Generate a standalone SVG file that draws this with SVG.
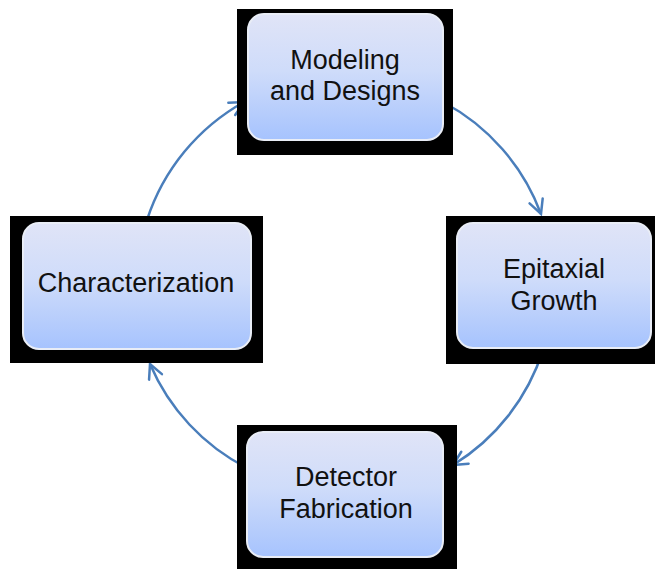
<svg xmlns="http://www.w3.org/2000/svg" width="655" height="569" viewBox="0 0 655 569">
<defs>
<linearGradient id="boxg" x1="0" y1="0" x2="0" y2="1">
<stop offset="0" stop-color="#e0e4f7"/>
<stop offset="0.45" stop-color="#cfdcfa"/>
<stop offset="0.8" stop-color="#b5ccfc"/>
<stop offset="1" stop-color="#a6c3fe"/>
</linearGradient>
<marker id="ah" markerUnits="userSpaceOnUse" markerWidth="40" markerHeight="40" refX="0" refY="0" viewBox="-20 -20 40 40" orient="auto" overflow="visible">
<path d="M-14,-7 L0,0 L-14,7" fill="none" stroke="#4a7ebb" stroke-width="2.5" stroke-linecap="round" stroke-linejoin="miter"/>
</marker>
</defs>
<style>
.bg{fill:#000}
.box{fill:url(#boxg);stroke:#e9edf6;stroke-width:2}
.lbl{font-family:"Liberation Sans",Arial,sans-serif;font-size:27px;fill:#111;text-anchor:middle}
.arc{fill:none;stroke:#4a7ebb;stroke-width:2.5;marker-end:url(#ah)}
</style>
<rect width="655" height="569" fill="#fff"/>
<g id="connectors">
<path class="arc" d="M147,220 A209,209 0 0,1 244,102"/>
<path class="arc" d="M443,102 A209,209 0 0,1 541,214"/>
<path class="arc" d="M543,350 A209,209 0 0,1 453,465"/>
<path class="arc" d="M247,468 A209,209 0 0,1 150,364"/>
</g>
<g id="modeling">
<rect class="bg" x="237" y="9" width="216" height="146"/>
<rect class="box" x="248" y="14" width="195" height="126" rx="16"/>
<text class="lbl" x="345" y="69">Modeling</text>
<text class="lbl" x="345" y="100">and Designs</text>
</g>
<g id="epitaxial">
<rect class="bg" x="446" y="216" width="209" height="148"/>
<rect class="box" x="457" y="223" width="194" height="125" rx="16"/>
<text class="lbl" x="554" y="278">Epitaxial</text>
<text class="lbl" x="554" y="310">Growth</text>
</g>
<g id="detector">
<rect class="bg" x="237" y="425" width="220" height="144"/>
<rect class="box" x="247" y="432" width="196" height="125" rx="16"/>
<text class="lbl" x="346" y="486">Detector</text>
<text class="lbl" x="346" y="518">Fabrication</text>
</g>
<g id="characterization">
<rect class="bg" x="10" y="216" width="253" height="147"/>
<rect class="box" x="23" y="223" width="228" height="126" rx="16"/>
<text class="lbl" x="136" y="292">Characterization</text>
</g>
</svg>
